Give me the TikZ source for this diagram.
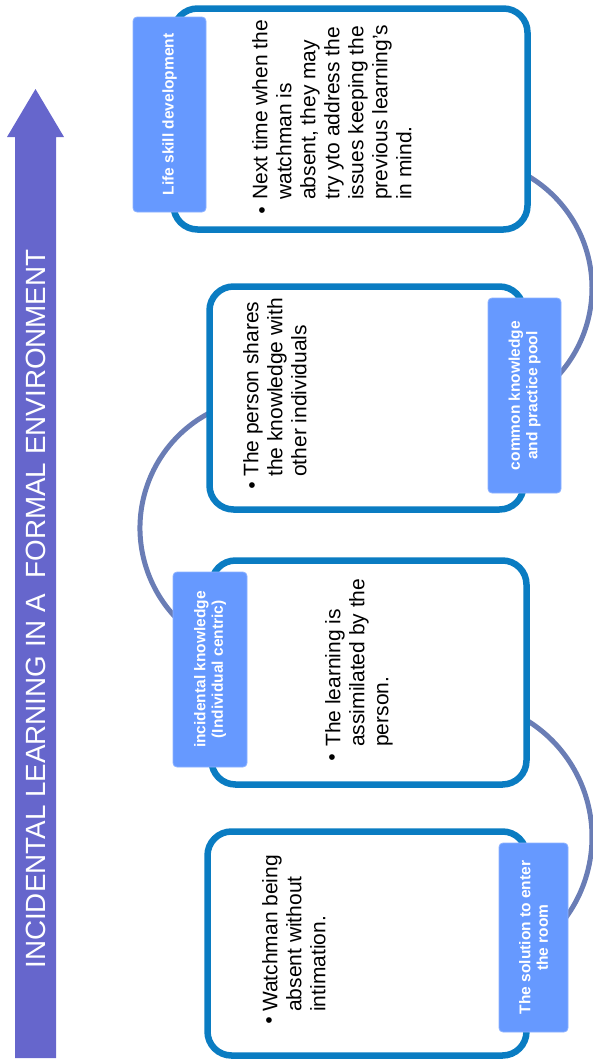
\documentclass[tikz,border=0pt]{standalone}
\usepackage{fontspec}
\setmainfont{Liberation Sans}
\definecolor{arrowc}{HTML}{6666CC}
\definecolor{boxc}{HTML}{0A7CC2}
\definecolor{labc}{HTML}{6699FF}
\definecolor{connc}{HTML}{6A7DB5}
\begin{document}
\begin{tikzpicture}[x=1pt,y=-1pt,
  box/.style={draw=boxc, line width=6.5pt, fill=white, rounded corners=24pt, inner sep=0pt},
  lab/.style={fill=labc, draw=labc!75!white, line width=0.8pt, rounded corners=4pt, rotate=90,
    text=white, font=\bfseries\fontsize{15.5}{17.5}\selectfont, align=center, inner sep=0pt},
  body/.style={rotate=90, anchor=north west, inner sep=0pt, align=left,
    font=\fontsize{21}{24}\selectfont},
  bul/.style={inner sep=0pt, font=\fontsize{21}{24}\selectfont},
  conn/.style={draw=connc, line width=5pt},
  title/.style={rotate=90, text=white, inner sep=0pt, font=\fontsize{27.8}{30}\selectfont}]
\useasboundingbox (0,0) rectangle (593,1060);

% connectors (behind boxes)
\path (462,288) ++(-65:130) coordinate (c1a);
\path (270,528) ++(250:130) coordinate (c2a);
\path (455,837) ++(-65:137) coordinate (c3a);
\draw[conn] (c1a) arc[start angle=-65, end angle=45, radius=130];
\draw[conn] (c2a) arc[start angle=250, end angle=130, radius=130];
\draw[conn] (c3a) arc[start angle=-65, end angle=42, radius=137];

% boxes
\node[box, minimum width=354pt, minimum height=221pt] (box1) at (350.5,119) {};
\node[box, minimum width=314pt, minimum height=223pt] (box2) at (366.5,398) {};
\node[box, minimum width=315pt, minimum height=224pt] (box3) at (369,672.5) {};
\node[box, minimum width=319pt, minimum height=224pt] (box4) at (367,943.5) {};

% body texts
\node[body] (t1) at (252,200) {Next time when the\\watchman is\\absent, they may\\try yto address the\\issues keeping the\\previous learning's\\in mind.};
\node[bul] (b1) at (262,213) {•};
\node[body] (t2) at (243,477) {The person shares\\the knowledge with\\other individuals};
\node[bul] (b2) at (252,488) {•};
\node[body] (t3) at (325,747) {The learning is\\assimilated by the\\person.};
\node[bul] (b3) at (332,760) {•};
\node[body] (t4) at (262,1012) {Watchman being\\absent without\\intimation.};
\node[bul] (b4) at (269,1023) {•};

% labels
\node[lab, minimum width=195pt, minimum height=73pt] (l1) at (169.5,114.5) {Life skill development};
\node[lab, minimum width=195pt, minimum height=73pt] (l2) at (524.5,395.5) {common knowledge\\and practice pool};
\node[lab, minimum width=195pt, minimum height=74pt] (l3) at (210,669.5) {incidental knowledge\\(Individual centric)};
\node[lab, minimum width=189pt, minimum height=69pt] (l4) at (533.5,937.5) {The solution to enter\\the room};

% big arrow
\fill[arrowc] (15,1058) -- (15,137) -- (7,137) -- (35.5,89) -- (64,137) -- (56,137) -- (56,1058) -- cycle;
\node[title] (ttl) at (35.5,609) {INCIDENTAL LEARNING IN A\ \ FORMAL ENVIRONMENT};
\end{tikzpicture}
\end{document}
